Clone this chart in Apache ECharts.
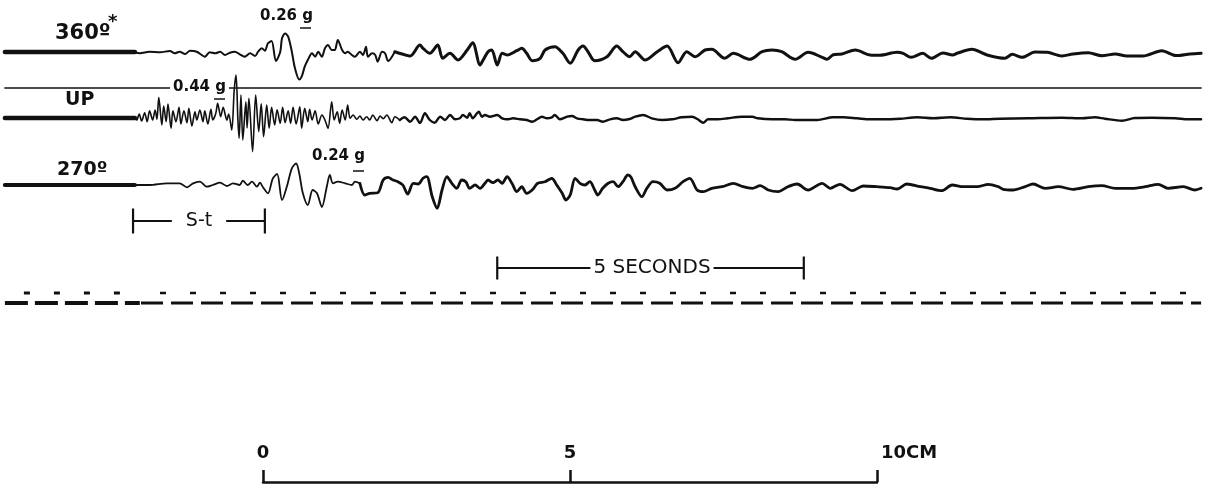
<!DOCTYPE html>
<html><head><meta charset="utf-8">
<script src="https://cdn.jsdelivr.net/npm/echarts/dist/echarts.min.js"></script>
<style>html,body{margin:0;padding:0;background:#fff}#c{width:1206px;height:485px}</style>
</head><body><div id="c"></div>
<script>
// ---- DATA (time in seconds from trace onset; amplitude = trace deflection, up positive) ----
const t360 = [0.00,0.08,0.24,0.41,0.57,0.65,0.73,0.82,0.90,1.01,1.09,1.14,1.22,1.31,1.39,1.47,1.55,1.63,1.71,1.79,1.88,1.96,2.01,2.07,2.12,2.17,2.23,2.30,2.37,2.40,2.45,2.50,2.56,2.61,2.68,2.72,2.77,2.82,2.89,2.94,2.99,3.05,3.10,3.15,3.21,3.26,3.31,3.38,3.43,3.47,3.54,3.59,3.67,3.72,3.77,3.80,3.87,3.92,3.96,4.03,4.08,4.13,4.24,4.36,4.49,4.65,4.70,4.81,4.94,5.02,5.14,5.27,5.42,5.51,5.63,5.68,5.76,5.82,5.91,5.99,6.07,6.23,6.31,6.39,6.48,6.61,6.69,6.85,6.98,7.10,7.23,7.31,7.39,7.50,7.70,7.86,7.96,8.07,8.16,8.32,8.52,8.68,8.86,9.00,9.14,9.30,9.41,9.62,9.76,10.03,10.23,10.39,10.55,10.77,10.98,11.21,11.29,11.39,11.53,11.75,11.99,12.15,12.43,12.53,12.66,12.85,12.99,13.18,13.34,13.41,13.65,13.90,14.19,14.31,14.47,14.68,14.88,15.12,15.30,15.55,15.77,15.99,16.18,16.44,16.75,16.98,17.21,17.39];
const a360 = [-0.3,-1.3,0.3,-0.3,1,-1.3,0.3,-2,1.3,0.3,-3,-4.7,-0.3,-1.3,0.3,-3,-0.7,0.3,-2.3,-4.7,-1.3,-4,0.3,3.7,1.3,8.7,11,-9,0,13.7,18.5,15.3,0.3,-16,-27.5,-24.7,-14.7,-8,-1.3,-4.7,0.3,-4.7,3.7,7,2,2,12,2,-1.3,0.3,-3,-4.7,0.3,-3,5.3,-4.7,-1.3,-3,-9.7,0.3,-1.3,-9,0.3,-2,-4,7,3.7,-1.3,7,-6.3,-1.3,-8,2,9.3,-13,-8,0.3,2,-13,-1.3,-3,1.3,3.7,-1.3,-8.7,-6.3,2,5.3,-1.3,-11.3,2,6,0.3,-8.7,-4.7,6,0.3,-4.7,0.3,-8,0.3,6,-10.7,0.3,-4.7,2,2.7,-6.3,-1.3,-7.3,0.3,2,0.3,-7.3,-0.3,-5.3,-7.3,-2.7,-2,2,-3,-3.3,-0.3,-1.3,-5.3,-1.3,-6.3,-1,-3,-1.3,2.7,-3,-6.3,-2.3,-5.3,0,-0.3,-4,-2,-0.7,-3.7,-2,-4,-4,1.3,-3.5,-2,-1.3];

const tUP = [0.00,0.03,0.07,0.11,0.16,0.20,0.24,0.29,0.33,0.36,0.39,0.44,0.47,0.51,0.54,0.59,0.62,0.67,0.72,0.75,0.80,0.85,0.88,0.93,0.98,1.01,1.06,1.11,1.14,1.19,1.24,1.27,1.32,1.35,1.40,1.44,1.50,1.53,1.58,1.62,1.65,1.68,1.70,1.73,1.76,1.81,1.83,1.86,1.92,1.97,2.02,2.06,2.10,2.15,2.19,2.23,2.28,2.32,2.37,2.41,2.45,2.50,2.54,2.58,2.63,2.69,2.72,2.77,2.82,2.85,2.89,2.94,2.99,3.05,3.10,3.15,3.21,3.25,3.30,3.34,3.38,3.43,3.47,3.51,3.56,3.62,3.67,3.72,3.78,3.83,3.88,3.95,4.00,4.05,4.11,4.19,4.24,4.32,4.40,4.49,4.57,4.65,4.73,4.81,4.89,4.98,5.06,5.14,5.22,5.30,5.35,5.42,5.46,5.51,5.58,5.61,5.66,5.71,5.79,5.91,5.99,6.07,6.17,6.28,6.39,6.48,6.56,6.64,6.72,6.80,6.85,6.93,7.05,7.13,7.21,7.31,7.42,7.54,7.63,7.75,7.86,7.96,8.07,8.16,8.29,8.43,8.60,8.76,8.92,9.09,9.18,9.27,9.35,9.51,9.67,9.90,10.07,10.16,10.39,10.60,10.77,10.90,11.13,11.39,11.55,11.78,11.99,12.20,12.48,12.76,13.02,13.30,13.57,13.83,14.11,14.57,15.12,15.45,15.66,15.82,16.10,16.31,16.59,16.97,17.18,17.39];
const aUP = [0,-2,4,-3,5.3,-3.7,7.3,-2,8,-1.3,20.7,-7,12,-3.7,14,-10.3,7.3,-3.7,10.7,-6,7.3,-4.7,9.7,-8,6.3,-2,8,-3.7,7.3,-6,8.7,-2,4.7,14.7,1.3,10.7,-2,4,-12,28,43,-2,-20.3,23,-22,16.3,-10,19.7,-33.7,23,-13.7,14.3,-18.7,13,-10.3,10.7,-7,8.3,-5.3,10.7,-4.7,7.3,-5.3,10.7,-6,11.3,-10.3,9.7,-3.7,8.7,-2,7.3,-6,3,-2,-10.3,16.3,-2,6.3,-5.3,8,-2,13,-0.3,3,-1.3,2,-2,1.3,-2,3,-2.7,2,-0.7,3,-4.7,1.3,-2,0.7,-3.7,1.3,-5,4.7,-2,-4.7,1.3,-2,3,-1.3,-0.3,3,0.3,4.7,-0.3,4.7,6.3,1.3,3,1.3,3,-0.3,-1.3,-0.3,-1.3,-2,-3.7,-1.3,1.3,-0.3,0.7,3,-1.3,1.3,2,-0.3,-1.3,-2,-2,-3.7,-1.3,-0.3,-2,-1,1.3,3,-0.3,-2,-1.3,0.7,1.3,-1.3,-4.7,-1.3,-1.3,-0.3,1.3,1.3,-0.3,-1.3,-1.3,-2,-2,-2,0.7,0.7,-0.3,-1.3,-1.3,-0.7,0.7,-0.3,0.7,-0.7,-1.3,-0.7,-0.3,0.3,-0.3,0.7,-0.7,-2.7,0,0.3,-0.3,-1.3,-1.3];

const t270 = [0.00,0.24,0.52,0.73,0.85,0.95,1.06,1.17,1.27,1.39,1.50,1.60,1.71,1.76,1.84,1.91,1.99,2.04,2.09,2.17,2.25,2.32,2.40,2.48,2.56,2.63,2.68,2.74,2.82,2.90,2.97,3.05,3.13,3.18,3.23,3.31,3.43,3.54,3.59,3.67,3.75,3.83,3.96,4.05,4.13,4.21,4.29,4.37,4.45,4.54,4.62,4.70,4.76,4.85,4.93,5.01,5.09,5.17,5.25,5.33,5.40,5.46,5.55,5.63,5.71,5.76,5.84,5.92,5.99,6.07,6.15,6.23,6.31,6.39,6.48,6.57,6.69,6.80,6.88,6.97,7.03,7.10,7.18,7.26,7.34,7.42,7.50,7.55,7.63,7.72,7.80,7.88,7.96,8.04,8.09,8.16,8.27,8.35,8.45,8.56,8.68,8.81,8.94,9.05,9.17,9.27,9.41,9.58,9.76,9.92,10.07,10.20,10.33,10.49,10.65,10.80,10.98,11.21,11.34,11.50,11.70,11.88,12.10,12.32,12.43,12.59,12.81,12.97,13.16,13.33,13.51,13.74,13.92,14.08,14.16,14.32,14.52,14.65,14.85,15.06,15.30,15.55,15.77,15.99,16.26,16.48,16.69,16.85,17.10,17.29,17.39];
const a270 = [0,0,1.7,1.7,-2.3,1.7,3.3,-1.7,0,2.3,-1,1.7,0,4.3,0,3.3,-1.7,2.3,-2.3,-8.3,6.7,11,-15,-1.3,16.7,21.5,11.7,-8.3,-20,-5,-8.3,-22,-1.7,10,1.7,3.3,1.7,0,3.3,1.7,-10,-8.3,-7.7,5,7.7,5,3.3,0,-9,1.7,1,6.7,8.3,-11.7,-23.3,-5,8.3,1.7,-3.3,5,3,-3.3,0,-3.3,1.7,5,2.3,5,1.7,8.3,1.7,-6.7,-1.7,-8.3,-5,1.7,3.3,6.7,0,-8.3,-15,-10,6.7,1.7,0,3.3,-5,-10,-3.3,1.7,3.3,-1.7,3.3,10,8,-1.7,-11.7,-3.3,3.3,1.7,-5,-3.3,3.3,6.7,-5,-6.7,-3.3,-1.7,1.7,-1.7,-3.3,-0.7,-5,-6.7,-1.7,1,-5,1.7,-3.3,0.7,-5.7,-1,-1.7,-2.7,-4,1,-1.7,-3.3,-5.7,0,-1.7,-1.7,0.7,-1.7,-4.3,-5,-1.7,1,-3.3,-1.7,-4.3,-1.7,-0.7,-3.3,-3.3,-1.7,0.7,-3.3,-1.7,-5,-3.3];

const leadT = [-2.12, 0];          // undisturbed trace before onset
const refT = [-2.12, 17.39];       // reference (zero) line above the UP trace
const refLevel = 30;
const stSpan = [-0.03, 2.12];      // S-t interval
const secSpan = [5.91, 10.91];     // 5 seconds
const dotsA = [-1.81, -0.24], dotsB = [0.41, 17.15];
const dashA = [-2.12, 0.08], dashB = [0.10, 17.39];
const cmTicks = [0, 5, 10];

// ---- CHART ----
const INK = '#111';
const T_MIN = -2.2, T_MAX = 17.47;
const grids = [], xAxes = [], yAxes = [];
function addGrid(g, ymin, ymax, xmin, xmax) {
  grids.push(Object.assign({containLabel:false}, g));
  const i = grids.length - 1;
  xAxes.push({gridIndex:i, type:'value', min:xmin, max:xmax, show:false});
  yAxes.push({gridIndex:i, type:'value', min:ymin, max:ymax, show:false});
  return i;
}
const G360 = addGrid({left:0,right:0,top:2,height:100}, -50, 50, T_MIN, T_MAX);
const GUP  = addGrid({left:0,right:0,top:68,height:100}, -50, 50, T_MIN, T_MAX);
const G270 = addGrid({left:0,right:0,top:135,height:100}, -50, 50, T_MIN, T_MAX);
const GST  = addGrid({left:0,right:0,top:211,height:20}, -10, 10, T_MIN, T_MAX);
const GSEC = addGrid({left:0,right:0,top:258,height:20}, -10, 10, T_MIN, T_MAX);
const GDOT = addGrid({left:0,right:0,top:283,height:20}, -10, 10, T_MIN, T_MAX);
const GDSH = addGrid({left:0,right:0,top:293,height:20}, -10, 10, T_MIN, T_MAX);
grids.push({left:263, width:614, top:420, height:62});
const GCM = grids.length - 1;
xAxes.push({gridIndex:GCM, type:'value', min:cmTicks[0], max:cmTicks[2], interval:cmTicks[1], position:'bottom',
  axisLine:{show:true, onZero:false, lineStyle:{color:INK, width:2.5}},
  axisTick:{show:true, inside:true, length:12, lineStyle:{color:INK, width:2.5}},
  splitLine:{show:false},
  axisLabel:{show:true, inside:true, margin:20, color:INK, fontFamily:'DejaVu Sans', fontWeight:'bold', fontSize:18,
    formatter: v => v === 10 ? '{u|10CM}' : String(v),
    rich:{u:{color:INK, fontFamily:'DejaVu Sans', fontWeight:'bold', fontSize:18, padding:[0,0,0,64]}}}
});
yAxes.push({gridIndex:GCM, type:'value', min:0, max:1, show:false});

const xy = (t, a) => t.map((v, i) => [v, a[i]]);
const flat = (t, lv) => t.map(v => [v, lv]);
function split(t, a, ts) {
  const k = t.findIndex(v => v >= ts);
  return [xy(t.slice(0, k + 1), a.slice(0, k + 1)), xy(t.slice(k), a.slice(k))];
}
function line(gi, data, w, extra) {
  return Object.assign({type:'line', xAxisIndex:gi, yAxisIndex:gi, data, showSymbol:false, symbol:'none',
    smooth:0.3, silent:true, animation:false,
    lineStyle:{color:INK, width:w, cap:'round', join:'round'}}, extra || {});
}
const s360 = split(t360, a360, 4.2), sUP = split(tUP, aUP, 4.3), s270 = split(t270, a270, 3.6);
const bracket = (gi, span, h) => ({type:'line', xAxisIndex:gi, yAxisIndex:gi, data:flat(span, 0), silent:true, animation:false,
  symbol:'rect', symbolSize:[2.2, h], showSymbol:true, itemStyle:{color:INK}, lineStyle:{color:INK, width:1.8}});
const dashed = (gi, span, w, pat) => ({type:'line', xAxisIndex:gi, yAxisIndex:gi, data:flat(span, 0), silent:true, animation:false,
  symbol:'none', lineStyle:{color:INK, width:w, type:pat, cap:'butt'}});

const series = [
  line(G360, flat(leadT, 0), 4.5, {smooth:false}),
  line(G360, s360[0], 2), line(G360, s360[1], 3),
  line(GUP, flat(leadT, 0), 4.5, {smooth:false}),
  line(GUP, flat(refT, refLevel), 1.6, {smooth:false}),
  line(GUP, sUP[0], 1.6), line(GUP, sUP[1], 2.4),
  line(G270, flat(leadT, 0), 4.2, {smooth:false}),
  line(G270, s270[0], 1.8), line(G270, s270[1], 2.8),
  bracket(GST, stSpan, 25), bracket(GSEC, secSpan, 23),
  dashed(GDOT, dotsA, 3, [6, 24]), dashed(GDOT, dotsB, 2.6, [6, 24]),
  dashed(GDSH, dashA, 4, [23, 7]), dashed(GDSH, dashB, 2.8, [22, 8]),
  {type:'line', xAxisIndex:GCM, yAxisIndex:GCM, data:[], silent:true}
];

function txt(text, x, y, font, align, extra) {
  return {type:'text', z:100, silent:true, style:Object.assign({text, x, y, font, fill:INK,
    textAlign:align || 'left', align:align || 'left', textVerticalAlign:'middle', verticalAlign:'middle'}, extra || {})};
}
function uline(x1, x2, y) {
  return {type:'line', z:100, silent:true, shape:{x1, y1:y, x2, y2:y}, style:{stroke:INK, lineWidth:1.5}};
}
const F = s => `bold ${s}px "DejaVu Sans"`;
const graphic = [
  txt('360º', 55, 34, F(21)), txt('*', 108, 22, F(18)),
  txt('UP', 65, 100, F(19)),
  txt('270º', 57, 170, F(19)),
  txt('0.26 g', 260, 16, F(15)), uline(300, 311, 28),
  txt('0.44 g', 170, 87, F(15), 'left', {backgroundColor:'#fff', padding:[1, 3]}), uline(214, 225, 99),
  txt('0.24 g', 312, 156, F(15)), uline(353, 364, 171),
  txt('S-t', 199, 221, '19px "DejaVu Sans"', 'center', {backgroundColor:'#fff', padding:[2, 14]}),
  txt('5 SECONDS', 652, 268, '20px "DejaVu Sans"', 'center', {backgroundColor:'#fff', padding:[2, 3]})
];

const chart = echarts.init(document.getElementById('c'), null, {renderer:'canvas'});
chart.setOption({backgroundColor:'#fff', animation:false, grid:grids, xAxis:xAxes, yAxis:yAxes, series, graphic});
</script></body></html>
